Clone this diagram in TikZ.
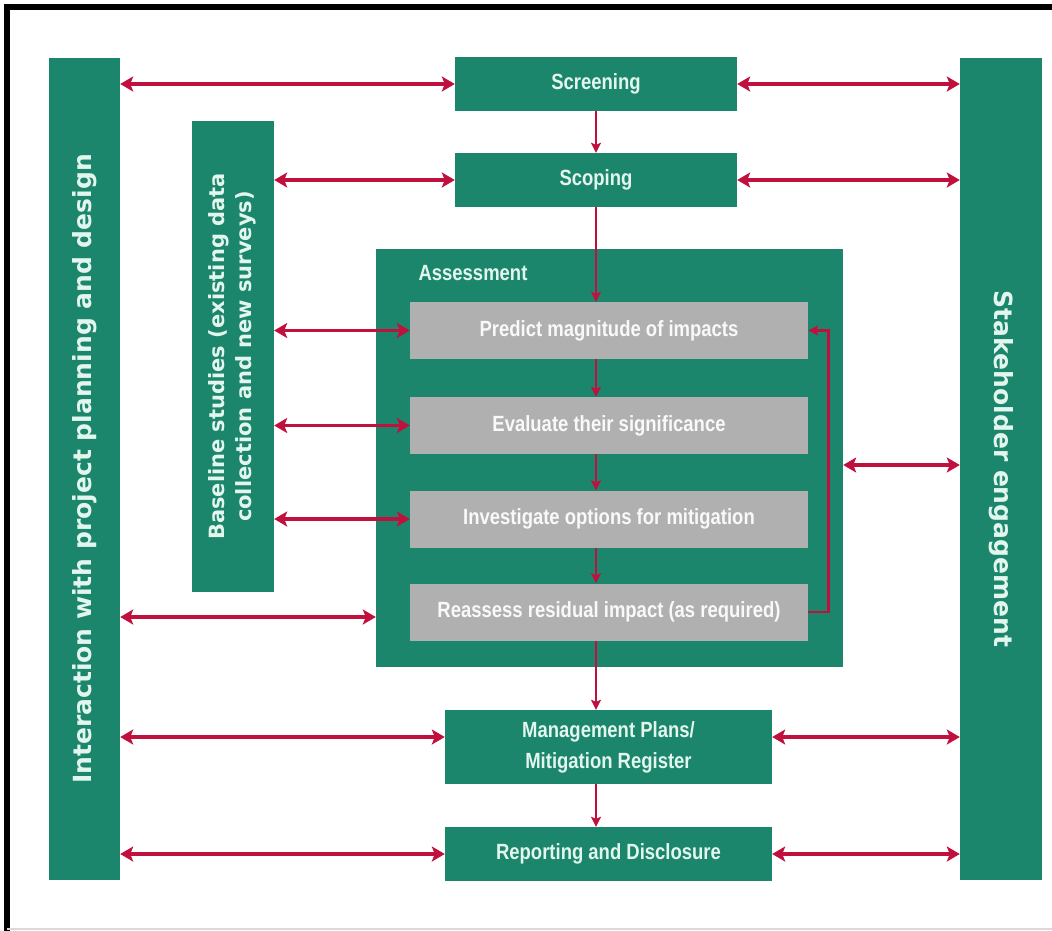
\documentclass[tikz,border=0pt]{standalone}
\usepackage{fontspec}
\setmainfont{Liberation Sans}
\newfontfamily\narrowsans[FakeStretch=0.84]{Liberation Sans}
\newfontfamily\widesans{DejaVu Sans}
\usepackage{tikz}
\usetikzlibrary{arrows.meta, positioning}
\definecolor{eiagreen}{RGB}{28, 134, 108}
\definecolor{eiacrimson}{RGB}{192, 16, 62}
\definecolor{stepgray}{RGB}{176, 176, 176}
\definecolor{mintwhite}{RGB}{226, 246, 238}

\begin{document}
\begin{tikzpicture}[
        x=1pt, y=-1pt,
        sidebar/.style={rectangle, fill=eiagreen, inner sep=0pt, minimum height=822pt, text=mintwhite, align=center, font=\widesans\bfseries\fontsize{25}{30}\selectfont},
        stage/.style={rectangle, fill=eiagreen, inner sep=0pt, minimum width=282pt, minimum height=54pt, text=mintwhite, align=center, font=\narrowsans\bfseries\fontsize{22}{31}\selectfont},
        stepbox/.style={rectangle, fill=stepgray, inner sep=0pt, minimum width=398pt, minimum height=57pt, text=white!95!gray, align=center, font=\narrowsans\bfseries\fontsize{22}{26}\selectfont},
        link/.style={{Stealth[length=13pt, width=15pt, inset=3pt]}-{Stealth[length=13pt, width=15pt, inset=3pt]}, line width=3.8pt, draw=eiacrimson},
        flow/.style={-{Stealth[length=10pt, width=10pt, inset=2pt]}, line width=2.8pt, draw=eiacrimson}
    ]
        \useasboundingbox (0,0) rectangle (1052,930);
        \fill[white] (0,0) rectangle (1052,930);
        % Frame
        \draw[line width=6pt] (7,935) -- (7,7) -- (1058,7);
        \draw[black!15, line width=2pt] (7,929) -- (1052,929);

        % Side bars
        \node[sidebar, minimum width=71pt] (design) at (84.5, 469) {\rotatebox{90}{Interaction with project planning and design}};
        \node[sidebar, minimum width=82pt, minimum height=471pt, font=\widesans\bfseries\fontsize{21}{27}\selectfont] (baseline) at (233, 356.5) {\rotatebox{90}{\begin{tabular}{@{}c@{}}Baseline studies (existing data\\collection and new surveys)\end{tabular}}};
        \node[sidebar, minimum width=82pt] (stake) at (1001, 469) {\rotatebox{-90}{Stakeholder engagement}};

        % Main stages
        \node[stage] (screen) at (596, 84) {Screening};
        \node[stage] (scope) at (596, 180) {Scoping};
        \node[rectangle, fill=eiagreen, minimum width=467pt, minimum height=418pt] (assess) at (609.5, 458) {};
        \node[anchor=west, text=mintwhite, font=\narrowsans\bfseries\fontsize{22}{26}\selectfont] (assesslbl) at (415, 273) {Assessment};
        \node[stepbox] (predict) at (609, 330.5) {Predict magnitude of impacts};
        \node[stepbox] (evaluate) at (609, 425.5) {Evaluate their significance};
        \node[stepbox] (investigate) at (609, 519) {Investigate options for mitigation};
        \node[stepbox] (reassess) at (609, 612) {Reassess residual impact (as required)};
        \node[stage, minimum width=327pt, minimum height=74pt] (plans) at (608.5, 747) {Management Plans/\\Mitigation Register};
        \node[stage, minimum width=327pt] (report) at (608.5, 854) {Reporting and Disclosure};

        % Vertical flow
        \draw[flow] (screen.south) -- (scope.north);
        \draw[flow] (scope.south) -- (scope.south |- predict.north);
        \draw[flow] (scope.south |- predict.south) -- (scope.south |- evaluate.north);
        \draw[flow] (scope.south |- evaluate.south) -- (scope.south |- investigate.north);
        \draw[flow] (scope.south |- investigate.south) -- (scope.south |- reassess.north);
        \draw[flow] (scope.south |- reassess.south) -- (scope.south |- plans.north);
        \draw[flow] (scope.south |- plans.south) -- (scope.south |- report.north);
        \draw[flow] (reassess.east) -- ++(20,0) |- (predict.east);

        % Links to the side bars
        \draw[link] (design.east |- screen.west) -- (screen.west);
        \draw[link] (screen.east) -- (stake.west |- screen.east);
        \draw[link] (baseline.east |- scope.west) -- (scope.west);
        \draw[link] (scope.east) -- (stake.west |- scope.east);
        \draw[link] (baseline.east |- predict.west) -- (predict.west);
        \draw[link] (baseline.east |- evaluate.west) -- (evaluate.west);
        \draw[link] (baseline.east |- investigate.west) -- (investigate.west);
        \draw[link] ([yshift=-5pt]design.east |- reassess.west) -- ([yshift=-5pt]assess.west |- reassess.west);
        \draw[link] ([yshift=-7pt]assess.east) -- ([yshift=-7pt]stake.west |- assess.east);
        \draw[link] ([yshift=10pt]design.east |- plans.west) -- ([yshift=10pt]plans.west);
        \draw[link] ([yshift=10pt]plans.east) -- ([yshift=10pt]stake.west |- plans.east);
        \draw[link] (design.east |- report.west) -- (report.west);
        \draw[link] (report.east) -- (stake.west |- report.east);
    \end{tikzpicture}
\end{document}
